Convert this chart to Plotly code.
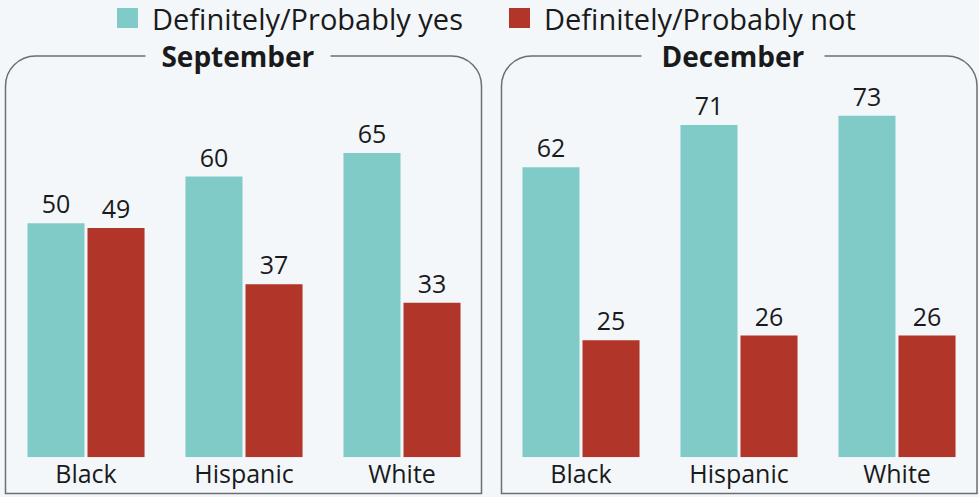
import plotly.graph_objects as go

# Survey data
groups = ["Black", "Hispanic", "White"]
sept_yes = [50, 60, 65]
sept_not = [49, 37, 33]
dec_yes = [62, 71, 73]
dec_not = [25, 26, 26]
panel_titles = ["September", "December"]
series_names = ["Definitely/Probably yes", "Definitely/Probably not"]

W, H = 979, 497
BG = "#f3f7fa"
TEAL = "#80cbc7"
RED = "#b13528"
FONT = "Open Sans"
TXT = "#1a1a1a"


def fx(px):
    return px / W


def fy(py):
    return (H - py) / H


fig = go.Figure()

panels = [(sept_yes, sept_not, "x", "y"), (dec_yes, dec_not, "x2", "y2")]
for yes, no, xa, ya in panels:
    for vals, color in ((yes, TEAL), (no, RED)):
        fig.add_trace(go.Bar(
            x=groups, y=vals, xaxis=xa, yaxis=ya,
            marker=dict(color=color, line=dict(width=0)),
            text=vals, textposition="outside", cliponaxis=False,
            textfont=dict(family=FONT, size=25, color=TXT),
            showlegend=False, hoverinfo="skip",
        ))

base = 457.3
per_unit = 4.68
ymax = 90
ytop = base - ymax * per_unit
ydom = [fy(base), fy(ytop)]

axis_x = dict(showgrid=False, zeroline=False, showline=False, ticks="",
              tickfont=dict(family=FONT, size=25, color=TXT), fixedrange=True)
axis_y = dict(range=[0, ymax], visible=False, fixedrange=True, domain=ydom)

fig.update_layout(
    width=W, height=H,
    margin=dict(l=0, r=0, t=0, b=0),
    paper_bgcolor=BG, plot_bgcolor="rgba(0,0,0,0)",
    barmode="group", bargap=0.24, bargroupgap=0.05,
    showlegend=False,
    xaxis=dict(axis_x, domain=[fx(7), fx(481)], anchor="y"),
    yaxis=dict(axis_y, anchor="x"),
    xaxis2=dict(axis_x, domain=[fx(502), fx(976)], anchor="y2"),
    yaxis2=dict(axis_y, anchor="x2"),
)


def box_path(x0, x1, top, bottom, r):
    k = 0.5523 * r
    pts = [
        f"M {fx(x0)},{fy(bottom)}",
        f"L {fx(x0)},{fy(top + r)}",
        f"C {fx(x0)},{fy(top + r - k)} {fx(x0 + r - k)},{fy(top)} {fx(x0 + r)},{fy(top)}",
        f"L {fx(x1 - r)},{fy(top)}",
        f"C {fx(x1 - r + k)},{fy(top)} {fx(x1)},{fy(top + r - k)} {fx(x1)},{fy(top + r)}",
        f"L {fx(x1)},{fy(bottom)}",
        "Z",
    ]
    return " ".join(pts)


boxes = [(5.5, 481.5, 56, 493.5, 238, 184), (501.5, 977, 56, 493.5, 733, 182)]
for (x0, x1, top, bottom, cx, gap), title in zip(boxes, panel_titles):
    fig.add_shape(type="path", xref="paper", yref="paper",
                  path=box_path(x0, x1, top, bottom, 30),
                  line=dict(color="#6b6f73", width=1.5), layer="below")
    fig.add_annotation(x=fx(cx), y=fy(top), xref="paper", yref="paper",
                       text=f"<b>{title}</b>", showarrow=False,
                       xanchor="center", yanchor="middle",
                       width=gap, bgcolor=BG, borderpad=0,
                       font=dict(family=FONT, size=28, color=TXT))

# Legend drawn as swatches and labels along the top
legend_items = [(117, TEAL), (509, RED)]
for (sx, color), name in zip(legend_items, series_names):
    fig.add_shape(type="rect", xref="paper", yref="paper",
                  x0=fx(sx), x1=fx(sx + 21), y0=fy(28), y1=fy(8),
                  fillcolor=color, line=dict(width=0))
    fig.add_annotation(x=fx(sx + 33), y=fy(18), xref="paper", yref="paper",
                       text=name, showarrow=False, xanchor="left",
                       yanchor="middle",
                       font=dict(family=FONT, size=29, color=TXT))

fig.write_html("out.html")
